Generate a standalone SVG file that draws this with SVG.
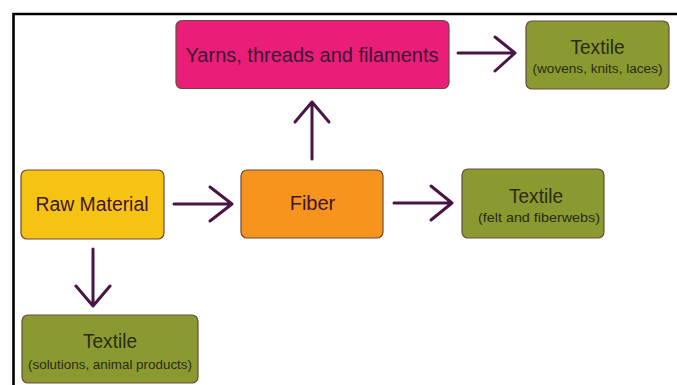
<svg xmlns="http://www.w3.org/2000/svg" width="677" height="385" viewBox="0 0 677 385">
<style>
.box{stroke:#6a4a3c;stroke-width:1.2}
.t{font-family:"Liberation Sans",Arial,sans-serif;text-anchor:middle}
.main{font-size:20px;fill:#3d1630}
.tt{font-size:20px;fill:#2b2a14}
.sub{font-size:13px;fill:#2b2a14}
.arr{fill:none;stroke:#4b1447;stroke-width:3;stroke-linecap:round;stroke-linejoin:round}
</style>
<rect width="677" height="385" fill="#ffffff"/>
<path d="M13.5 385 V14 H677" fill="none" stroke="#000" stroke-width="2.6"/>
<g id="yarns">
<rect class="box" x="176" y="20.5" width="273" height="68" rx="6" fill="#ea1e79"/>
<text class="t main" x="312" y="62" textLength="253" lengthAdjust="spacingAndGlyphs">Yarns, threads and filaments</text>
</g>
<g id="textile-wovens">
<rect class="box" x="526" y="21" width="143" height="68" rx="6" fill="#8a9a30"/>
<text class="t tt" x="597.5" y="54" textLength="54" lengthAdjust="spacingAndGlyphs">Textile</text>
<text class="t sub" x="597.5" y="73" textLength="130" lengthAdjust="spacingAndGlyphs">(wovens, knits, laces)</text>
</g>
<g id="raw-material">
<rect class="box" x="21" y="170" width="143" height="69" rx="6" fill="#f6c312"/>
<text class="t main" x="92" y="211" textLength="113" lengthAdjust="spacingAndGlyphs">Raw Material</text>
</g>
<g id="fiber">
<rect class="box" x="241" y="170" width="142" height="68" rx="6" fill="#f7941e"/>
<text class="t main" x="312.5" y="210">Fiber</text>
</g>
<g id="textile-felt">
<rect class="box" x="462" y="169" width="142" height="69" rx="6" fill="#8a9a30"/>
<text class="t tt" x="536" y="203" textLength="54" lengthAdjust="spacingAndGlyphs">Textile</text>
<text class="t sub" x="539" y="222" textLength="122" lengthAdjust="spacingAndGlyphs">(felt and fiberwebs)</text>
</g>
<g id="textile-solutions">
<rect class="box" x="22" y="315" width="176" height="68" rx="6" fill="#8a9a30"/>
<text class="t tt" x="110" y="348" textLength="54" lengthAdjust="spacingAndGlyphs">Textile</text>
<text class="t sub" x="110" y="369" textLength="164" lengthAdjust="spacingAndGlyphs">(solutions, animal products)</text>
</g>
<g id="connectors">
<path class="arr" d="M458 53 H515 M495 37 L515 53 L495 71"/>
<path class="arr" d="M312 159 V102 M295 122 L312 102 L329 122"/>
<path class="arr" d="M174 204 H232 M210 187 L232 204 L210 221"/>
<path class="arr" d="M394 203 H452 M431 186 L452 203 L431 220"/>
<path class="arr" d="M93 249 V306 M76 286 L93 306 L110 286"/>
</g>
</svg>
